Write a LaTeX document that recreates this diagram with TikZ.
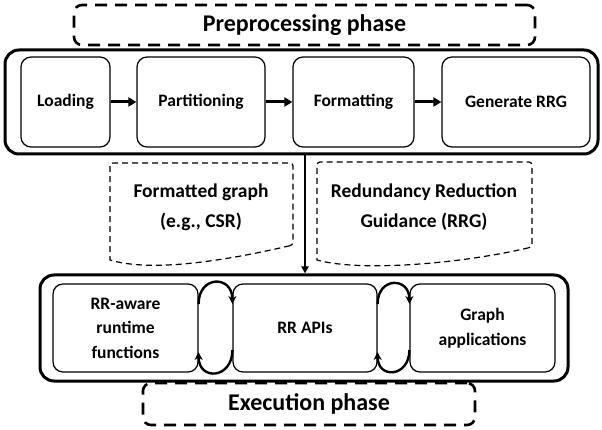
\documentclass[tikz,border=0pt]{standalone}
\usepackage{fontspec}
\setmainfont{Carlito}
\usetikzlibrary{arrows.meta}
\begin{document}
\begin{tikzpicture}[x=1pt,y=-1pt,
  outerbox/.style={draw, line width=3pt, rounded corners=14pt, inner sep=0pt},
  stagebox/.style={draw, line width=1.2pt, rounded corners=10pt, inner sep=0pt,
    align=center, font=\bfseries\fontsize{17.5}{24.5}\selectfont},
  phaselabel/.style={draw, line width=2.6pt, dash pattern=on 12pt off 8pt,
    rounded corners=8pt, inner sep=0pt, font=\bfseries\fontsize{24}{28}\selectfont},
  doctext/.style={align=center, font=\bfseries\fontsize{19.5}{30}\selectfont},
  docline/.style={line width=1.2pt, dash pattern=on 6pt off 4pt},
  flow/.style={-{Triangle[length=8pt,width=9pt]}, line width=3pt},
  drop/.style={-{Triangle[length=7pt,width=7pt]}, line width=2.2pt},
  cycle arc/.style={-{Stealth[length=8pt,width=8pt]}, line width=2.4pt},
]
\useasboundingbox (0,0) rectangle (602,430);
\fill[white] (0,0) rectangle (602,430);

% preprocessing phase
\node[phaselabel, minimum width=461pt, minimum height=40pt] (prelabel) at (304.5,25) {Preprocessing phase};
\node[outerbox, minimum width=593pt, minimum height=104pt] (prep) at (301.5,102) {};
\node[stagebox, minimum width=89pt, minimum height=90pt] (load) at (65.5,102) {Loading};
\node[stagebox, minimum width=128pt, minimum height=90pt] (part) at (201,102) {Partitioning};
\node[stagebox, minimum width=121pt, minimum height=90pt] (fmt) at (353.5,102) {Formatting};
\node[stagebox, minimum width=148pt, minimum height=90pt] (rrg) at (516,102) {Generate RRG};
\draw[flow] (load) -- (part);
\draw[flow] (part) -- (fmt);
\draw[flow] (fmt) -- (rrg);

% intermediate outputs
\draw[docline] (293,245) .. controls (220,262) and (150,272) .. (110,260)
  [rounded corners=3pt] -- (110,163) -- (293,163) -- cycle;
\node[doctext] (fmtout) at (201,207) {Formatted graph\\(e.g., CSR)};
\draw[docline] (532,247) .. controls (460,264) and (360,272) .. (317,260)
  [rounded corners=3pt] -- (317,162) -- (532,162) -- cycle;
\node[doctext] (rrgout) at (424,207) {Redundancy Reduction\\Guidance (RRG)};

% execution phase
\node[phaselabel, minimum width=332pt, minimum height=42pt] (exlabel) at (309,404) {Execution phase};
\node[outerbox, minimum width=528pt, minimum height=106pt, fill=white] (exec) at (304,328) {};
\node[stagebox, minimum width=145pt, minimum height=88pt] (aware) at (125.5,328) {RR-aware\\runtime\\functions};
\node[stagebox, minimum width=144pt, minimum height=88pt] (api) at (305,328) {RR APIs};
\node[stagebox, minimum width=145pt, minimum height=88pt] (app) at (482.5,328) {Graph\\applications};

\draw[drop] (prep.south -| api.north) -- (api.north |- exec.north);

\draw[cycle arc] ([yshift=24pt]aware.east) to[out=90,in=90,looseness=2.2] ([yshift=24pt]api.west);
\draw[cycle arc] ([yshift=-22pt]api.west) to[out=-90,in=-90,looseness=2.2] ([yshift=-24pt]aware.east);
\draw[cycle arc] ([yshift=24pt]api.east) to[out=90,in=90,looseness=2.2] ([yshift=24pt]app.west);
\draw[cycle arc] ([yshift=-22pt]app.west) to[out=-90,in=-90,looseness=2.2] ([yshift=-24pt]api.east);
\end{tikzpicture}
\end{document}
